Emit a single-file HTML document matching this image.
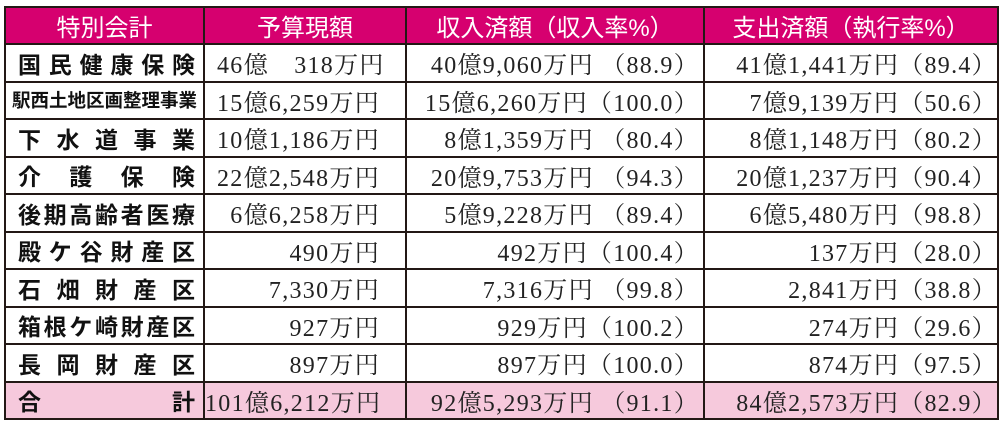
<!DOCTYPE html>
<html><head><meta charset="utf-8"><style>
html,body{margin:0;padding:0;background:#fff;width:1000px;height:425px;overflow:hidden}
table{position:absolute;left:4px;top:6px;border-collapse:collapse;table-layout:fixed;width:993px}
td,th{border:2px solid #231815;padding:0;height:35.5px;overflow:hidden;white-space:pre}
th{background:#d6006f;color:#fff;font-family:"Liberation Sans","Noto Sans CJK JP",sans-serif;font-weight:normal;font-size:24px;height:35px}
td.l{font-family:"Liberation Sans","Noto Sans CJK JP",sans-serif;font-weight:bold;font-size:23px;text-align:justify;text-align-last:justify;padding:0 8px 0 12px;color:#111}
td.l.s{font-size:18.5px;padding:0 6px 0 6px;letter-spacing:0}
td.n{font-family:"Liberation Serif","Noto Serif CJK JP",serif;font-size:24px;text-align:right;color:#222;letter-spacing:1.3px}
td.c1{padding-right:25px}
td.c2{padding-right:4px}
td.c3{padding-right:0px}
tr.t td{background:#f6c9dc}
</style></head><body>
<table>
<colgroup><col style="width:199px"><col style="width:202px"><col style="width:298px"><col style="width:294px"></colgroup>
<tr><th>特別会計</th><th>予算現額</th><th>収入済額（収入率%）</th><th>支出済額（執行率%）</th></tr>
<tr><td class="l">国民健康保険</td><td class="n c1" style="text-align:left;padding-left:12px">46億　318万円</td><td class="n c2">40億9,060万円 （88.9）</td><td class="n c3">41億1,441万円（89.4）</td></tr>
<tr><td class="l s">駅西土地区画整理事業</td><td class="n c1">15億6,259万円</td><td class="n c2">15億6,260万円（100.0）</td><td class="n c3">7億9,139万円（50.6）</td></tr>
<tr><td class="l">下水道事業</td><td class="n c1">10億1,186万円</td><td class="n c2">8億1,359万円 （80.4）</td><td class="n c3">8億1,148万円（80.2）</td></tr>
<tr><td class="l">介護保険</td><td class="n c1">22億2,548万円</td><td class="n c2">20億9,753万円 （94.3）</td><td class="n c3">20億1,237万円（90.4）</td></tr>
<tr><td class="l">後期高齢者医療</td><td class="n c1">6億6,258万円</td><td class="n c2">5億9,228万円 （89.4）</td><td class="n c3">6億5,480万円（98.8）</td></tr>
<tr><td class="l">殿ケ谷財産区</td><td class="n c1">490万円</td><td class="n c2">492万円（100.4）</td><td class="n c3">137万円（28.0）</td></tr>
<tr><td class="l">石畑財産区</td><td class="n c1">7,330万円</td><td class="n c2">7,316万円 （99.8）</td><td class="n c3">2,841万円（38.8）</td></tr>
<tr><td class="l">箱根ケ崎財産区</td><td class="n c1">927万円</td><td class="n c2">929万円（100.2）</td><td class="n c3">274万円（29.6）</td></tr>
<tr><td class="l">長岡財産区</td><td class="n c1">897万円</td><td class="n c2">897万円（100.0）</td><td class="n c3">874万円（97.5）</td></tr>
<tr class="t"><td class="l">合計</td><td class="n c1" style="padding-right:24px">101億6,212万円</td><td class="n c2">92億5,293万円 （91.1）</td><td class="n c3">84億2,573万円（82.9）</td></tr>
</table>
</body></html>
